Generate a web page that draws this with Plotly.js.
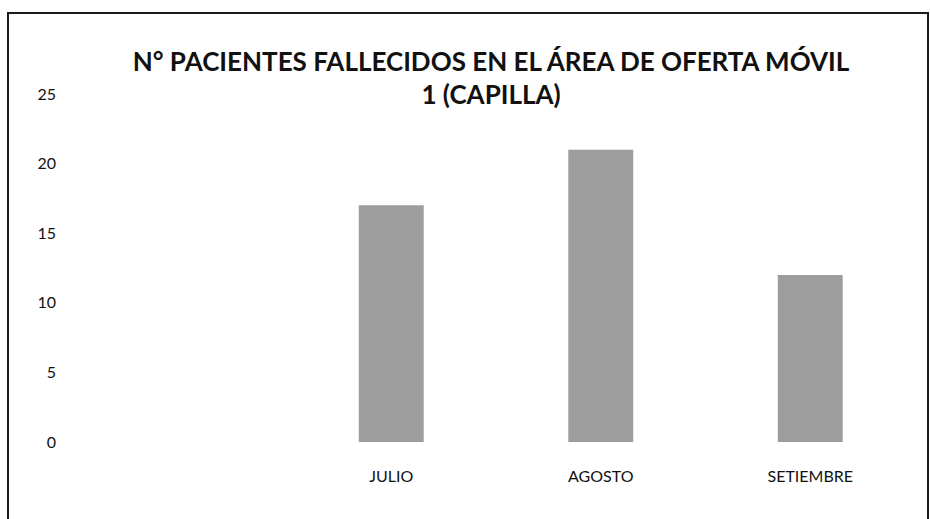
<!DOCTYPE html>
<html>
<head>
<meta charset="utf-8">
<script src="https://cdn.plot.ly/plotly-3.0.1.min.js"></script>
<style>
  html, body { margin: 0; padding: 0; background: #fff; }
  #wrap { position: relative; width: 930px; height: 519px; overflow: hidden; }
  #chart { position: absolute; left: 0; top: 0; width: 930px; height: 519px; }
  #frame { position: absolute; left: 7px; top: 12px; width: 918px; height: 520px;
           border: 2px solid #1a1a1a; pointer-events: none; }
</style>
</head>
<body>
<div id="wrap">
  <div id="chart"></div>
  <div id="frame"></div>
</div>
<script>
const categories = ["", "JULIO", "AGOSTO", "SETIEMBRE"];
const fallecidos = [null, 17, 21, 12];
const yTicks = [0, 5, 10, 15, 20, 25];
const titleText = "N° PACIENTES FALLECIDOS EN EL ÁREA DE OFERTA MÓVIL<br>1 (CAPILLA)";

const fontFam = "Lato, 'Open Sans', 'Liberation Sans', sans-serif";

const trace = {
  type: "bar",
  x: categories,
  y: fallecidos,
  width: 0.31,
  marker: { color: "#9d9d9d", line: { width: 0 } },
  hoverinfo: "skip"
};

const layout = {
  width: 930,
  height: 519,
  margin: { l: 77, r: 15, t: 94, b: 77 },
  paper_bgcolor: "#ffffff",
  plot_bgcolor: "#ffffff",
  showlegend: false,
  title: {
    text: titleText,
    font: { family: fontFam, size: 26, color: "#111", weight: "bold" },
    x: 0.528,
    xanchor: "center",
    y: 0.864,
    yanchor: "middle"
  },
  xaxis: {
    type: "category",
    categoryorder: "array",
    categoryarray: categories,
    range: [-0.5, 3.5],
    showline: false,
    showgrid: false,
    zeroline: false,
    ticks: "",
    ticklabelstandoff: 23,
    tickfont: { family: fontFam, size: 16, color: "#111" }
  },
  yaxis: {
    range: [0, 25],
    tickmode: "array",
    tickvals: yTicks,
    ticktext: yTicks.map(String),
    showline: false,
    showgrid: false,
    zeroline: false,
    ticks: "",
    ticklabelstandoff: 20,
    tickfont: { family: fontFam, size: 16, color: "#111" }
  }
};

Plotly.newPlot("chart", [trace], layout, { displayModeBar: false, staticPlot: true });
</script>
</body>
</html>
